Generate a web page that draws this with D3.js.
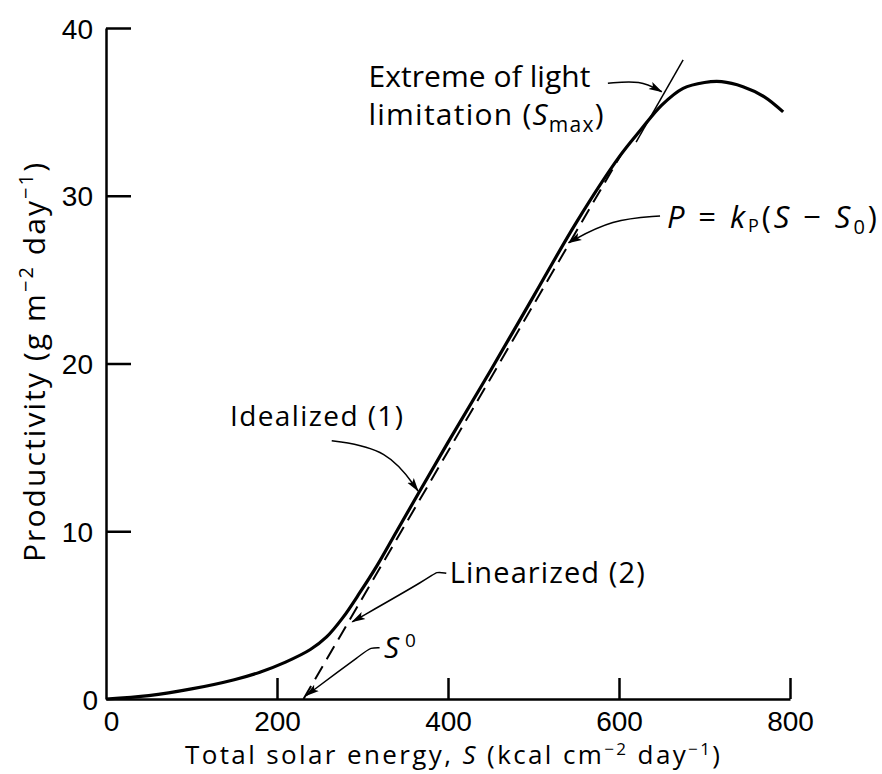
<!DOCTYPE html>
<html lang="en">
  <head>
    <meta charset="UTF-8" />
    <title>Productivity vs solar energy</title>
    <script src="https://d3js.org/d3.v7.min.js"></script>
    <style>
      body {
        margin: 0;
        background: #fff;
      }
      svg {
        display: block;
        font-family: "Open Sans", sans-serif;
      }
      .axis path,
      .axis line {
        stroke: #000;
        stroke-width: 2.5;
      }
      .axis text {
        font-size: 28px;
        fill: #000;
      }
    </style>
  </head>
  <body>
    <svg id="chart" width="882" height="774"></svg>

    <script>
      // idealized curve (1)
      const idealS = [0, 50, 100, 150, 180, 210, 239, 258, 277, 297, 317, 340, 367, 400, 450, 500, 550, 600, 625, 650, 675, 700, 720, 745, 770, 792];
      const idealP = [0, 0.2, 0.6, 1.15, 1.6, 2.2, 2.95, 3.7, 4.85, 6.35, 7.95, 10.0, 12.4, 15.3, 19.6, 24.0, 28.4, 32.3, 33.9, 35.4, 36.4, 36.75, 36.8, 36.5, 35.9, 35.0];

      // linearized (2), P = kP(S - S0)
      const linS = [231, 603];
      const linP = [0, 32.5];

      // tangent at the extreme of light limitation
      const tanS = [620, 675];
      const tanP = [33.2, 38.1];

      const xTicks = [0, 200, 400, 600, 800];
      const yTicks = [0, 10, 20, 30, 40];

      const svg = d3.select("#chart");

      const x = d3.scaleLinear().domain([0, 800]).range([106, 790]);
      const y = d3.scaleLinear().domain([0, 40]).range([699, 28]);

      // arrowheads
      svg
        .append("defs")
        .append("marker")
        .attr("id", "arrow")
        .attr("viewBox", "0 -5 14 10")
        .attr("refX", 13)
        .attr("refY", 0)
        .attr("markerWidth", 14)
        .attr("markerHeight", 10)
        .attr("markerUnits", "userSpaceOnUse")
        .attr("orient", "auto")
        .append("path")
        .attr("d", "M0,-4L14,0L0,4L3,0Z")
        .attr("fill", "#000");

      // axes
      const xAxis = svg
        .append("g")
        .attr("class", "axis")
        .attr("transform", `translate(0,${y(0)})`)
        .call(
          d3
            .axisBottom(x)
            .tickValues(xTicks)
            .tickSizeInner(-21)
            .tickSizeOuter(0)
            .tickPadding(7)
            .tickFormat(d3.format("d"))
        );
      xAxis.selectAll(".tick line").filter((d) => d === 0).remove();
      xAxis.selectAll(".tick text").attr("dy", "0.88em").filter((d) => d === 0).attr("dx", 5);

      const yAxis = svg
        .append("g")
        .attr("class", "axis")
        .attr("transform", `translate(${x(0)},0)`)
        .call(
          d3
            .axisLeft(y)
            .tickValues(yTicks)
            .tickSizeInner(-25)
            .tickSizeOuter(0)
            .tickPadding(13)
            .tickFormat(d3.format("d"))
        );
      yAxis.selectAll(".tick line").filter((d) => d === 0).remove();
      yAxis.selectAll(".tick text").attr("dy", "0.36em");
      yAxis.selectAll(".tick text").filter((d) => d === 0).attr("dx", 5);

      // curves
      const line = d3
        .line()
        .x((d) => x(d[0]))
        .y((d) => y(d[1]));

      svg
        .append("path")
        .datum(idealS.map((s, i) => [s, idealP[i]]))
        .attr("fill", "none")
        .attr("stroke", "#000")
        .attr("stroke-width", 3.2)
        .attr("d", line.curve(d3.curveCatmullRom.alpha(0.5)));

      svg
        .append("path")
        .datum(linS.map((s, i) => [s, linP[i]]))
        .attr("fill", "none")
        .attr("stroke", "#000")
        .attr("stroke-width", 2)
        .attr("stroke-dasharray", "15,8")
        .attr("d", line.curve(d3.curveLinear));

      svg
        .append("path")
        .datum(tanS.map((s, i) => [s, tanP[i]]))
        .attr("fill", "none")
        .attr("stroke", "#000")
        .attr("stroke-width", 1.5)
        .attr("d", line.curve(d3.curveLinear));

      // annotation leaders (data units)
      const leaders = [
        [[587, 36.7], [625, 36.9], [650, 36.2]],
        [[648, 28.8], [592, 28.6], [541, 27.2]],
        [[264, 15.4], [330, 14.9], [365, 12.4]],
        [[398, 7.5], [386, 7.6], [381, 7.3], [288, 4.6]],
        [[320, 3.05], [309, 3.05], [304, 2.85], [234, 0.2]],
      ];
      const leaderLine = d3
        .line()
        .x((d) => x(d[0]))
        .y((d) => y(d[1]))
        .curve(d3.curveBasis);
      leaders.forEach((pts) => {
        svg
          .append("path")
          .attr("d", leaderLine(pts))
          .attr("fill", "none")
          .attr("stroke", "#000")
          .attr("stroke-width", 1.5)
          .attr("marker-end", "url(#arrow)");
      });

      // labels
      const label = (s, p, size, len) =>
        svg
          .append("text")
          .attr("x", x(s))
          .attr("y", y(p))
          .attr("font-size", size)
          .attr("textLength", len)
          .attr("lengthAdjust", "spacing")
          .attr("fill", "#000");

      label(307, 36.5, 30, 222).text("Extreme of light");
      const l2 = label(307, 34.2, 30, 235);
      l2.append("tspan").text("limitation (");
      l2.append("tspan").attr("font-style", "italic").text("S");
      l2.append("tspan").attr("font-size", 21).attr("dy", 7).text("max");
      l2.append("tspan").attr("dy", -7).text(")");

      const eq = label(656, 28.1, 31, 210).attr("font-style", "italic");
      eq.append("tspan").text("P");
      eq.append("tspan").attr("font-style", "normal").text(" = ");
      eq.append("tspan").text("k");
      eq.append("tspan").attr("font-style", "normal").attr("font-size", 18).attr("dy", 4).text("P");
      eq.append("tspan").attr("font-style", "normal").attr("dy", -4).text("(");
      eq.append("tspan").text("S");
      eq.append("tspan").attr("font-style", "normal").text(" − ");
      eq.append("tspan").text("S");
      eq.append("tspan").attr("font-style", "normal").attr("font-size", 20).attr("dy", 6).text("0");
      eq.append("tspan").attr("font-style", "normal").attr("dy", -6).text(")");

      label(145, 16.3, 28, 173).text("Idealized (1)");
      label(402, 6.9, 29, 195).text("Linearized (2)");

      const s0 = label(325, 2.45, 30, 32);
      s0.append("tspan").attr("font-style", "italic").text("S");
      s0.append("tspan").attr("font-size", 19).attr("dy", -11).text("0");

      // axis titles
      const xt = svg
        .append("text")
        .attr("x", 185)
        .attr("y", 764)
        .attr("font-size", 26)
        .attr("textLength", 535)
        .attr("lengthAdjust", "spacing");
      xt.append("tspan").text("Total solar energy, ");
      xt.append("tspan").attr("font-style", "italic").text("S");
      xt.append("tspan").text(" (kcal cm");
      xt.append("tspan").attr("font-size", 17).attr("dy", -9).text("−2");
      xt.append("tspan").attr("dy", 9).text(" day");
      xt.append("tspan").attr("font-size", 17).attr("dy", -9).text("−1");
      xt.append("tspan").attr("dy", 9).text(")");

      const yt = svg
        .append("text")
        .attr("transform", "translate(45,562) rotate(-90)")
        .attr("font-size", 30)
        .attr("textLength", 399)
        .attr("lengthAdjust", "spacing");
      yt.append("tspan").text("Productivity (g m");
      yt.append("tspan").attr("font-size", 20).attr("dy", -12).text("−2");
      yt.append("tspan").attr("dy", 12).text(" day");
      yt.append("tspan").attr("font-size", 20).attr("dy", -12).text("−1");
      yt.append("tspan").attr("dy", 12).text(")");
    </script>
  </body>
</html>
